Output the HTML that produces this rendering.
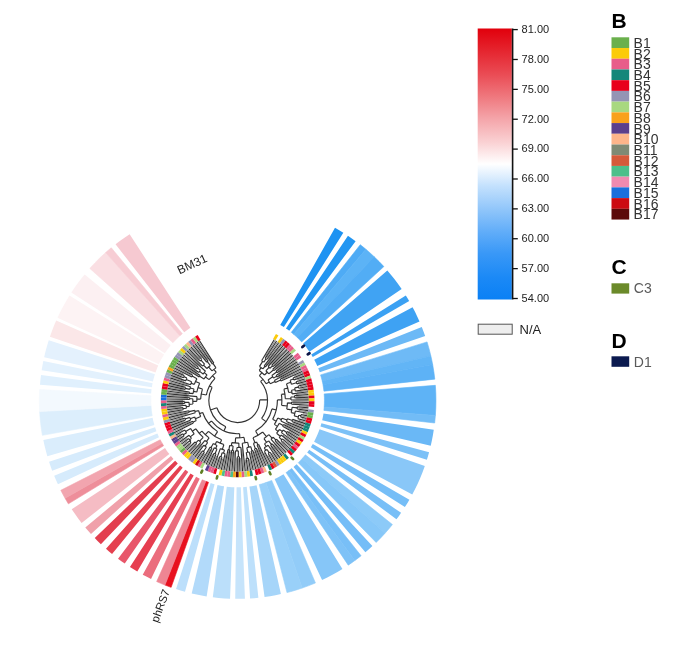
<!DOCTYPE html>
<html><head><meta charset="utf-8"><style>
html,body{margin:0;padding:0;background:#fff;}
body{width:700px;height:649px;overflow:hidden;}
svg{display:block;filter:blur(0.3px);}
text{font-family:"Liberation Sans",sans-serif;}
.t{font-size:11px;fill:#222;}
.t2{font-size:13px;fill:#222;}
.h{font-size:21px;font-weight:bold;fill:#000;}
.b{font-size:14px;fill:#333;}
.c{font-size:14px;fill:#5a5a5a;}
.lab{font-size:11.2px;fill:#222;}
.lab2{font-size:12px;fill:#222;}
</style></head><body>
<svg width="700" height="649" viewBox="0 0 700 649">
<defs><filter id="bl" x="-5%" y="-5%" width="110%" height="110%"><feGaussianBlur stdDeviation="0.35"/></filter></defs>
<rect width="700" height="649" fill="#fff"/>
<g><path d="M335 227.79 L339.19 230.22 L343.32 232.75 L283.9 327.1 L282.1 325.99 L280.26 324.93Z" fill="#1e93f2"/>
<path d="M347.96 235.77 L351.82 238.41 L355.6 241.15 L289.28 330.78 L287.62 329.58 L285.94 328.42Z" fill="#2296f2"/>
<path d="M360.28 244.71 L365.91 249.31 L293.79 334.35 L291.33 332.34Z" fill="#4eabf5" stroke="#4eabf5" stroke-width="0.6"/>
<path d="M365.91 249.31 L370.08 252.95 L374.15 256.71 L297.4 337.59 L295.62 335.94 L293.79 334.35Z" fill="#5cb3f6" stroke="#5cb3f6" stroke-width="0.6"/>
<path d="M374.15 256.71 L379.09 261.56 L383.85 266.58 L301.65 341.91 L299.56 339.71 L297.4 337.59Z" fill="#52adf5" stroke="#52adf5" stroke-width="0.6"/>
<path d="M387.31 270.45 L391.1 274.95 L394.76 279.56 L398.28 284.27 L401.66 289.09 L309.44 351.76 L307.96 349.65 L306.42 347.59 L304.82 345.57 L303.16 343.6Z" fill="#40a3f3"/>
<path d="M405.82 295.47 L409.21 301.1 L312.75 357.02 L311.26 354.55Z" fill="#3ba1f3"/>
<path d="M412.58 307.15 L415.01 311.86 L417.32 316.64 L419.5 321.48 L317.25 365.94 L316.3 363.82 L315.29 361.73 L314.22 359.67Z" fill="#3ea2f3"/>
<path d="M421.77 326.91 L423.51 331.43 L425.15 335.99 L319.72 372.29 L319.01 370.29 L318.24 368.32Z" fill="#6cb9f6"/>
<path d="M427.08 341.91 L429.1 348.89 L430.87 355.94 L322.23 381.02 L321.45 377.94 L320.57 374.88Z" fill="#6ebaf6" stroke="#6ebaf6" stroke-width="0.6"/>
<path d="M430.87 355.94 L431.79 360.17 L432.63 364.41 L323 384.73 L322.63 382.87 L322.23 381.02Z" fill="#62b5f6" stroke="#62b5f6" stroke-width="0.6"/>
<path d="M432.63 364.41 L433.85 371.75 L434.79 379.13 L323.94 391.18 L323.53 387.94 L323 384.73Z" fill="#5db2f6" stroke="#5db2f6" stroke-width="0.6"/>
<path d="M435.37 385.34 L435.8 392.85 L435.95 400.38 L435.81 407.9 L435.39 415.42 L324.21 407.06 L324.39 403.77 L324.45 400.47 L324.38 397.18 L324.19 393.89Z" fill="#5eb3f6" stroke="#5eb3f6" stroke-width="0.6"/>
<path d="M435.39 415.42 L434.68 423 L323.89 410.38 L324.21 407.06Z" fill="#72bcf6" stroke="#72bcf6" stroke-width="0.6"/>
<path d="M433.77 429.86 L432.9 435.21 L431.88 440.54 L430.71 445.83 L322.16 420.37 L322.67 418.05 L323.11 415.72 L323.5 413.38Z" fill="#6ab8f6"/>
<path d="M429.1 452.21 L428.03 456.04 L426.88 459.85 L320.48 426.51 L320.98 424.84 L321.45 423.16Z" fill="#7cc1f7"/>
<path d="M424.81 466.09 L422.65 471.94 L420.32 477.71 L417.81 483.41 L415.12 489.03 L412.25 494.56 L314.08 441.7 L315.33 439.28 L316.51 436.82 L317.61 434.33 L318.63 431.8 L319.57 429.24Z" fill="#89c7f8"/>
<path d="M409.38 499.7 L407.18 503.42 L404.89 507.1 L310.86 447.19 L311.86 445.58 L312.82 443.95Z" fill="#76bef7"/>
<path d="M401.07 512.87 L398.79 516.13 L396.44 519.34 L307.15 452.55 L308.18 451.14 L309.18 449.71Z" fill="#78bff7"/>
<path d="M392.41 524.54 L388.78 528.94 L385.02 533.24 L302.15 458.63 L303.8 456.75 L305.39 454.82Z" fill="#8ccaf8" stroke="#8ccaf8" stroke-width="0.6"/>
<path d="M385.02 533.24 L380.66 537.93 L376.15 542.47 L298.27 462.67 L300.25 460.68 L302.15 458.63Z" fill="#86c7f8" stroke="#86c7f8" stroke-width="0.6"/>
<path d="M372.38 546.05 L368.92 549.18 L365.38 552.23 L293.56 466.95 L295.11 465.61 L296.63 464.24Z" fill="#74bdf7"/>
<path d="M361.09 555.74 L357.96 558.19 L354.77 560.57 L288.91 470.59 L290.31 469.55 L291.68 468.48Z" fill="#78bff7" stroke="#78bff7" stroke-width="0.6"/>
<path d="M354.77 560.57 L351.53 562.89 L348.25 565.14 L286.06 472.6 L287.5 471.61 L288.91 470.59Z" fill="#7ec2f7" stroke="#7ec2f7" stroke-width="0.6"/>
<path d="M342.44 568.9 L337.47 571.89 L332.42 574.74 L327.29 577.43 L322.08 579.98 L274.61 479.09 L276.89 477.98 L279.13 476.8 L281.34 475.55 L283.52 474.24Z" fill="#86c6f8"/>
<path d="M315.45 582.95 L308.88 585.62 L302.21 588.05 L265.91 482.62 L268.83 481.56 L271.7 480.39Z" fill="#92ccf8" stroke="#92ccf8" stroke-width="0.6"/>
<path d="M302.21 588.05 L297.17 589.71 L292.09 591.23 L286.97 592.62 L259.24 484.62 L261.48 484.02 L263.7 483.35 L265.91 482.62Z" fill="#99d0f9" stroke="#99d0f9" stroke-width="0.6"/>
<path d="M280.91 594.07 L275.49 595.21 L270.04 596.19 L264.56 597.02 L249.43 486.55 L251.83 486.18 L254.21 485.76 L256.58 485.26Z" fill="#a6d5f9"/>
<path d="M258.38 597.76 L254.24 598.15 L250.1 598.46 L243.1 487.18 L244.91 487.05 L246.72 486.87Z" fill="#bde0fb"/>
<path d="M244.92 598.72 L240.07 598.84 L235.23 598.84 L236.59 487.34 L238.71 487.34 L240.83 487.29Z" fill="#c6e4fb"/>
<path d="M230.04 598.7 L224.28 598.4 L218.53 597.93 L212.8 597.29 L226.77 486.67 L229.28 486.95 L231.8 487.15 L234.32 487.29Z" fill="#bbdffa"/>
<path d="M206.63 596.41 L201.63 595.55 L196.65 594.56 L191.69 593.45 L217.53 484.99 L219.7 485.47 L221.88 485.91 L224.07 486.28Z" fill="#b2dafa"/>
<path d="M184.99 591.73 L180.5 590.44 L176.04 589.04 L210.68 483.05 L212.63 483.67 L214.6 484.23Z" fill="#bcdffb"/>
<path d="M171.13 587.36 L164.97 585.05 L205.84 481.31 L208.53 482.32Z" fill="#e8101e" stroke="#e8101e" stroke-width="0.6"/>
<path d="M164.97 585.05 L160.81 583.36 L156.68 581.57 L202.21 479.78 L204.01 480.57 L205.84 481.31Z" fill="#ee8593" stroke="#ee8593" stroke-width="0.6"/>
<path d="M151.03 578.93 L146.85 576.84 L142.73 574.65 L196.1 476.76 L197.91 477.72 L199.74 478.63Z" fill="#eb6d7d"/>
<path d="M137.3 571.59 L133.6 569.36 L129.94 567.05 L190.5 473.43 L192.1 474.44 L193.73 475.42Z" fill="#e63e50"/>
<path d="M124.76 563.58 L121.37 561.18 L118.03 558.71 L185.29 469.78 L186.75 470.86 L188.24 471.91Z" fill="#e8566a"/>
<path d="M112.05 554 L109 551.45 L105.99 548.84 L180.02 465.46 L181.34 466.6 L182.67 467.72Z" fill="#e5404f"/>
<path d="M100.9 544.15 L97.8 541.14 L94.76 538.05 L175.11 460.74 L176.43 462.09 L177.79 463.41Z" fill="#e33e4f"/>
<path d="M90.98 534.01 L88.1 530.78 L85.3 527.48 L170.96 456.11 L172.19 457.55 L173.45 458.97Z" fill="#f0a0aa"/>
<path d="M81.6 522.91 L78.18 518.41 L74.88 513.82 L71.72 509.13 L165.02 448.08 L166.4 450.13 L167.85 452.14 L169.34 454.11Z" fill="#f5bcc4"/>
<path d="M68.39 503.87 L65.06 498.2 L162.1 443.29 L163.56 445.77Z" fill="#ee8e9a" stroke="#ee8e9a" stroke-width="0.6"/>
<path d="M65.06 498.2 L62.89 494.26 L60.81 490.27 L160.24 439.82 L161.15 441.57 L162.1 443.29Z" fill="#f2a5af" stroke="#f2a5af" stroke-width="0.6"/>
<path d="M57.93 484.36 L56 480.1 L54.18 475.8 L157.34 433.49 L158.14 435.37 L158.98 437.23Z" fill="#d6ebfc"/>
<path d="M52.15 470.64 L50.55 466.25 L49.06 461.83 L155.1 427.37 L155.75 429.31 L156.45 431.23Z" fill="#d6ebfc"/>
<path d="M47.32 456.21 L45.84 450.87 L44.51 445.49 L43.33 440.08 L152.59 417.86 L153.11 420.22 L153.69 422.58 L154.34 424.91Z" fill="#daedfc"/>
<path d="M42.42 435.33 L41.46 429.43 L40.68 423.51 L40.08 417.57 L39.66 411.62 L150.99 405.4 L151.17 408 L151.43 410.6 L151.78 413.19 L152.2 415.77Z" fill="#dceefc" stroke="#dceefc" stroke-width="0.6"/>
<path d="M39.66 411.62 L39.38 404.24 L39.38 396.86 L39.66 389.48 L150.99 395.7 L150.87 398.93 L150.87 402.17 L150.99 405.4Z" fill="#f3f9fe" stroke="#f3f9fe" stroke-width="0.6"/>
<path d="M39.99 384.65 L40.44 379.82 L41 375.01 L151.57 389.37 L151.33 391.48 L151.13 393.59Z" fill="#e0f0fd"/>
<path d="M41.68 370.21 L42.45 365.6 L43.33 361.02 L152.59 383.24 L152.21 385.25 L151.87 387.27Z" fill="#e3f1fd"/>
<path d="M44.13 357.29 L45.49 351.57 L47.03 345.89 L48.74 340.26 L154.96 374.16 L154.21 376.62 L153.54 379.11 L152.94 381.62Z" fill="#e4f1fd"/>
<path d="M49.93 336.64 L51.87 331.21 L53.96 325.84 L56.21 320.53 L158.23 365.52 L157.25 367.85 L156.33 370.2 L155.48 372.58Z" fill="#fbe7e8"/>
<path d="M57.49 317.69 L60.22 311.99 L63.13 306.39 L66.22 300.88 L69.48 295.47 L164.04 354.55 L162.61 356.92 L161.26 359.33 L159.99 361.79 L158.79 364.28Z" fill="#fdf3f4"/>
<path d="M71.34 292.55 L75.54 286.34 L79.98 280.29 L84.64 274.42 L170.67 345.34 L168.63 347.91 L166.69 350.56 L164.85 353.28Z" fill="#fcf0f2"/>
<path d="M89.82 268.38 L94.92 262.88 L100.23 257.58 L105.73 252.49 L179.91 335.74 L177.5 337.97 L175.18 340.29 L172.94 342.69Z" fill="#fadfe3" stroke="#fadfe3" stroke-width="0.6"/>
<path d="M105.73 252.49 L111.25 247.76 L182.32 333.67 L179.91 335.74Z" fill="#f7cdd4" stroke="#f7cdd4" stroke-width="0.6"/>
<path d="M115.56 244.29 L120.16 240.8 L124.86 237.45 L129.65 234.24 L190.38 327.75 L188.28 329.16 L186.22 330.63 L184.21 332.15Z" fill="#f6c9d1"/></g>
<path d="M265.17 356.65L275.47 340.22M266.81 357.72L277.72 341.69M268.4 358.85L279.91 343.25M265.77 365.29L282.05 344.89M268.44 364.8L284.12 346.6M272.09 363.49L286.12 348.4M273.47 364.82L288.06 350.26M274.79 366.19L289.92 352.2M274.47 368.99L291.71 354.21M276.68 369.57L293.42 356.29M277.82 371.07L295.05 358.42M278.91 372.6L296.6 360.62M277.85 375.48L298.07 362.88M278.76 377.02L299.45 365.18M281.14 377.79L300.74 367.54M281.97 379.45L301.94 369.95M293.96 376.31L303.05 372.4M294.84 378.45L304.06 374.89M297.19 380.09L304.99 377.41M297.92 382.36L305.81 379.97M299.33 384.44L306.54 382.56M299.9 386.79L307.17 385.18M300.37 389.15L307.7 387.81M296.98 392.06L308.13 390.47M295.9 394.45L308.46 393.14M296.09 396.66L308.69 395.82M296.19 398.87L308.82 398.5M293.08 401.05L308.85 401.19M293.02 403.14L308.77 403.88M298.98 405.75L308.6 406.56M298.74 408.06L308.32 409.24M298.42 410.36L307.94 411.9M302.84 413.62L307.46 414.55M302.29 416.07L306.88 417.17M301.66 418.5L306.21 419.78M298.94 420.27L305.43 422.35M293.68 420.94L304.56 424.9M292.87 423.04L303.59 427.4M287.32 423L302.53 429.88M285.35 424.32L301.38 432.31M284.42 426.11L300.13 434.69M289.2 431.3L298.8 437.02M288.01 433.23L297.38 439.31M286.74 435.1L295.87 441.54M283 435.1L294.28 443.7M284.35 439.01L292.61 445.81M282.86 440.74L290.86 447.86M281.31 442.42L289.04 449.83M276.78 441.02L287.14 451.74M275.22 442.47L285.17 453.57M273.98 444.3L283.14 455.33M272.3 445.64L281.04 457M270.57 446.92L278.87 458.6M271.94 452.92L276.65 460.12M269.93 454.17L274.37 461.55M267.89 455.35L272.04 462.89M264.05 452.99L269.66 464.15M258.48 446.13L267.24 465.31M257.72 449.27L264.77 466.38M255.87 449.99L262.27 467.36M254.36 451.78L259.73 468.24M252.41 452.37L257.16 469.03M250.52 453.19L254.56 469.71M249.68 459.33L251.93 470.3M247.46 459.74L249.29 470.79M245.21 460.07L246.63 471.18M241.94 448.8L243.95 471.47M240.58 458.16L241.27 471.66M238.41 458.23L238.58 471.74M236.23 458.21L235.89 471.73M234.42 452.25L233.21 471.61M232.49 451.91L230.53 471.39M230.55 451.67L227.86 471.07M228.65 451.25L225.2 470.65M225.8 455.2L222.56 470.13M222.69 458.83L219.94 469.51M220.5 458.23L217.35 468.8M218.33 457.54L214.79 467.98M216.51 455.94L212.26 467.07M214.43 455.1L209.77 466.06M212.39 454.18L207.31 464.96M212.15 449.77L204.9 463.77M210.31 448.77L202.54 462.49M204.63 453.98L200.22 461.12M202.64 452.69L197.96 459.66M200.7 451.33L195.76 458.12M202.11 445.7L193.61 456.5M200.62 444.11L191.53 454.8M196.46 445.45L189.52 453.02M194.79 443.86L187.57 451.16M190.73 444.52L185.69 449.23M189.1 442.71L183.89 447.24M187.54 440.85L182.17 445.17M186.7 438.45L180.52 443.05M183.54 437.71L178.96 440.86M182.18 435.64L177.48 438.61M180.89 433.52L176.08 436.31M182.95 429.62L174.78 433.96M191.66 422.8L173.56 431.56M189.79 421.52L172.43 429.12M184.53 421.47L171.4 426.64M183.78 419.45L170.46 424.12M183.11 417.4L169.62 421.56M187.97 413.86L168.88 418.98M187.5 411.98L168.23 416.37M181.88 411.06L167.68 413.74M181.52 408.95L167.23 411.09M181.24 406.82L166.89 408.42M183.27 404.53L166.64 405.74M183.15 402.47L166.49 403.06M183.12 400.41L166.45 400.37M188.23 398.55L166.51 397.68M188.34 396.69L166.67 394.99M187.6 394.72L166.93 392.32M187.86 392.84L167.29 389.65M183.49 390.05L167.75 387M183.93 388.02L168.31 384.37M184.44 386L168.97 381.77M188.82 385.19L169.73 379.19M183.93 381.39L170.59 376.64M181.59 378.14L171.54 374.12M182.48 376.04L172.58 371.64M183.45 373.97L173.72 369.21M190.89 375.39L174.95 366.81M191.87 373.64L176.27 364.47M198.45 375.47L177.67 362.18M197.04 372.35L179.17 359.94M195.4 368.78L180.74 357.76M196.63 367.21L182.4 355.64M197.92 365.68L184.13 353.59M200.84 365.7L185.95 351.6M198.58 360.66L187.83 349.68M200.12 359.21L189.79 347.84M201.71 357.83L191.81 346.07M206.41 360.43L193.9 344.38M207.95 359.28L196.06 342.76M212.29 362.35L198.27 341.23" fill="none" stroke="#8a8a8a" stroke-width="1.0" filter="url(#bl)"/>
<path d="M261.6 360.69L274.32 339.52M265.17 358.43L276.6 340.95M266.74 359.5L278.82 342.46M263.82 362.11L265.96 358.96M259.5 366.42L262.72 361.38M264.19 365.95L280.99 344.06M265.48 366.98L283.09 345.73M262.92 368.87L264.84 366.46M259.22 370.43L261.24 367.6M268.11 366.5L285.13 347.49M271.74 365.23L287.1 349.32M273.05 366.54L289 351.22M269.99 368.28L272.41 365.88M265.85 370.78L269.06 367.38M272.75 369.29L290.82 353.2M273.9 370.64L292.57 355.24M268.78 373.86L273.33 369.96M264.49 375.01L267.35 372.28M259.38 375.56L261.96 372.59M276.07 371.22L294.24 357.35M277.15 372.7L295.84 359.51M271.82 375.47L276.61 371.95M276.11 375.55L297.34 361.74M277.03 377.02L298.77 364.02M273.62 378.12L276.57 376.28M268.01 379.99L272.75 376.78M274.33 380.47L300.1 366.36M280.22 379.29L301.35 368.74M281 380.91L302.5 371.17M275.4 382.58L280.62 380.1M270.3 383.86L274.88 381.52M266.16 383.69L269.21 381.89M260.6 381.43L263.1 379.35M293.02 377.94L303.57 373.64M293.84 380.05L304.54 376.15M290.06 380.3L293.44 378.99M296.14 381.68L305.41 378.69M296.81 383.9L306.19 381.26M291.44 384.31L296.49 382.79M286.48 383.77L290.79 382.29M298.17 385.96L306.87 383.87M298.68 388.26L307.45 386.49M294.7 387.93L298.43 387.11M295.33 391.18L307.93 389.14M291.53 390.23L295.04 389.55M292.09 393.81L308.31 391.8M288.65 392.52L291.84 392.01M283.95 389.04L287.76 388.1M294.51 395.68L308.59 394.48M294.65 397.83L308.77 397.16M290.86 397L294.59 396.76M290.98 400.02L308.85 399.85M285.32 398.73L290.94 398.51M281.42 394.34L284.88 393.85M291.56 402.05L308.82 402.54M291.47 404.09L308.7 405.22M287.44 402.88L291.53 403.07M297.38 406.75L308.47 407.9M297.11 409L308.14 410.57M292.11 407.25L297.26 407.88M295.35 410.99L307.71 413.23M301.11 414.53L307.18 415.86M300.54 416.91L306.56 418.48M298.8 415.23L300.84 415.72M297.87 418.67L305.83 421.07M294.25 415.85L298.36 416.96M291.18 412.6L294.85 413.43M286.76 409.08L291.71 409.94M281.59 405.37L287.2 405.99M277.39 399.92L281.85 399.85M292.64 419.39L305.01 423.63M291.89 421.45L304.09 426.15M287.46 418.68L292.27 420.42M286.36 421.47L303.07 428.65M282.08 418.16L286.93 420.08M280.82 421.05L301.96 431.1M277.79 418.01L281.47 419.61M283.57 424.52L300.77 433.5M282.63 426.24L299.48 435.86M279.29 423.3L283.11 425.39M287.34 431.48L298.1 438.17M286.14 433.33L296.63 440.43M283.17 430.09L286.75 432.41M281.43 432.62L295.09 442.63M279.49 429.42L282.32 431.37M281.16 435.02L293.46 444.77M282.47 438.91L291.75 446.84M280.99 440.57L289.96 448.85M279.14 437.43L281.74 439.75M276.59 433.24L280.17 436.24M275.39 429.31L278.09 431.36M274.37 424.38L277.46 426.38M272.66 419.36L276.22 421.27M272.01 408.91L276.27 409.94M276.47 439.22L288.1 450.79M274.99 440.66L286.17 452.66M273.12 437.23L275.74 439.94M270.98 439.18L284.16 454.46M268.84 434.7L272.06 438.22M272.21 443.81L282.09 456.18M270.55 445.08L279.96 457.81M268.62 440.85L271.39 444.45M268.15 445.27L277.77 459.37M270.14 452.28L275.52 460.84M268.17 453.47L273.21 462.23M267.16 449.56L269.16 452.89M264.33 451.15L270.86 463.53M264.25 447.7L265.76 450.38M264.48 443.72L266.23 446.53M263.98 438.57L266.59 442.34M262.75 432.04L266.48 436.72M258.68 444.38L268.46 464.74M257.01 445.14L266.01 465.86M256.58 441.98L257.85 444.77M256.25 448.24L263.53 466.88M254.44 448.91L261 467.81M253.4 443.29L255.35 448.59M252.99 437.78L255 442.66M255.58 431.03L258.07 435.26M261.63 418.36L266.04 421.63M259.64 399.94L267.51 399.72M252.95 450.65L258.45 468.65M251.05 451.19L255.86 469.38M250.78 446.64L252 450.93M249.19 451.96L253.25 470.02M248.3 458.07L250.61 470.56M246.12 458.43L247.96 471M246.26 452.53L247.21 458.26M246.82 447.59L247.73 452.27M247.64 442.28L248.81 447.16M242.25 443.21L245.29 471.34M244 437.29L244.96 442.83M240.92 447.37L242.61 471.58M239.45 456.7L239.93 471.71M237.32 456.73L237.24 471.75M238.31 450.85L238.39 456.73M235.46 450.81L234.55 471.68M236.93 447.48L236.88 450.85M238.81 443.08L238.93 447.47M233.58 450.5L231.86 471.51M231.69 450.31L229.19 471.25M233.09 445.94L232.64 450.41M229.84 449.93L226.53 470.88M227.98 449.6L223.88 470.41M229.67 445.47L228.91 449.77M231.8 442.69L231.37 445.74M235.59 437.78L235.3 443.03M239.57 433.68L239.81 437.77M225.11 453.51L221.25 469.84M221.99 457.09L218.64 469.17M219.86 456.46L216.07 468.4M222.13 452.72L220.92 456.79M224.47 449.96L223.62 453.13M220.32 448.66L213.52 467.54M223.88 444.54L222.38 449.35M216.03 454.14L211.01 466.58M214.02 453.28L208.53 465.52M216.99 449.08L215.02 453.72M214.28 447.83L206.1 464.38M217.04 445.4L215.63 448.47M211.94 447.96L203.71 463.14M210.17 446.95L201.37 461.81M213.31 443.49L211.05 447.46M216.64 441.58L215.15 444.48M221.6 439.8L220.2 443.22M204.44 452.08L199.08 460.4M202.52 450.79L196.85 458.9M206.46 447.01L203.48 451.45M203.88 445.17L194.68 457.32M207.7 442.54L205.15 446.11M204.99 440.47L192.56 455.66M209.09 437.91L206.33 441.53M200.8 442.28L190.52 453.91M196.65 443.58L188.53 452.1M195.06 442L186.62 450.21M198.49 440.12L195.85 442.79M203.19 437.41L199.63 441.21M191.02 442.62L184.78 448.24M189.46 440.83L183.02 446.21M190.84 441.21L190.23 441.73M188.61 438.49L181.33 444.12M191.46 438.42L189.7 439.86M189.06 435.29L179.73 441.96M194.23 433.81L190.24 436.87M184.11 435.85L178.21 439.74M182.81 433.81L176.77 437.47M186.57 432.86L183.45 434.84M184.82 429.92L175.42 435.14M190.62 428.47L185.68 431.4M195.85 428.82L192.34 431.19M201.89 431.09L199.28 433.32M208.49 431.33L205.31 434.69M217.59 431.63L214.65 436.17M193.43 422.99L174.16 432.77M192.61 421.3L172.99 430.35M196.25 420.58L193.01 422.15M190.79 420.03L171.91 427.89M185.56 419.94L170.92 425.38M184.86 417.96L170.03 422.85M189.76 417.35L185.2 418.95M194.7 417L190.26 418.7M200.69 416.54L195.44 418.81M195.34 412.75L169.24 420.28M189.18 412.56L168.54 417.68M188.76 410.72L167.94 415.06M194.72 410.33L188.96 411.64M198.65 410.61L195.01 411.55M202.66 412.55L199.55 413.61M211.52 421L208.52 423.34M225.81 426.74L223.98 430.79M183.17 409.76L167.45 412.41M182.86 407.69L167.05 409.75M186.43 408.21L183 408.73M186.08 405.3L166.75 407.08M189.37 406.38L186.23 406.76M184.7 403.42L166.55 404.4M184.63 401.41L166.46 401.71M189.05 402.26L184.65 402.42M192.92 404.03L189.17 404.32M189.7 399.52L166.47 399.02M189.77 397.71L166.57 396.33M192.83 398.74L189.73 398.62M196.84 401.31L192.8 401.39M197.02 396.6L166.78 393.65M200.66 399.1L196.86 398.95M189.21 393.98L167.1 390.98M189.49 392.16L167.51 388.32M193.07 393.65L189.34 393.07M185.17 389.35L168.02 385.68M185.63 387.37L168.63 383.07M189.82 389.39L185.39 388.36M190.53 386.7L169.34 380.47M194.03 389.06L190.16 388.04M196.82 392.03L193.49 391.34M190.55 384.75L170.15 377.91M185.7 380.91L171.05 375.37M183.41 377.67L172.05 372.88M184.31 375.64L173.14 370.42M186.9 378L183.85 376.65M191.69 381.67L186.28 379.45M194.32 384.41L191.09 383.2M191.76 376.96L174.32 368M192.68 375.25L175.6 365.64M196.93 378.64L192.21 376.1M199.65 383.35L195.53 381.48M202.46 389.07L198 387.61M206.39 394.95L201.21 394.02M199.26 377L176.96 363.32M200.17 375.56L178.41 361.05M204.05 379.05L199.71 376.27M198.79 372.47L179.94 358.84M197.19 368.91L181.56 356.69M198.41 367.41L183.26 354.61M200.45 370.31L197.79 368.15M203.1 374.06L199.61 371.38M205.48 371.22L185.03 352.59M207.06 374.96L204.26 372.62M209.11 379.61L205.49 376.96M202.57 366.06L186.88 350.63M200.37 361.02L188.8 348.75M201.89 359.64L190.79 346.94M204.58 364.13L201.13 360.33M206.85 368.5L203.56 365.08M206.6 362.2L192.85 345.21M208.07 361.05L194.97 343.56M210.34 365.48L207.33 361.62M211.99 370.91L208.56 366.95M212.43 364.07L197.15 341.99M213.82 363.15L199.39 340.5M215.97 367.89L213.12 363.6M216.23 372.37L213.93 369.34M215.01 378.29L212.41 375.74M212.12 387.35L209.44 385.97M216.87 407.77L210.5 409.99M265.17 358.43A50.31 50.31 0 0 1 266.74 359.5M261.6 360.69A46.51 46.51 0 0 1 263.82 362.11M264.19 365.95A43.6 43.6 0 0 1 265.48 366.98M259.5 366.42A40.52 40.52 0 0 1 262.92 368.87M271.74 365.23A49.09 49.09 0 0 1 273.05 366.54M268.11 366.5A45.68 45.68 0 0 1 269.99 368.28M272.75 369.29A47 47 0 0 1 273.9 370.64M265.85 370.78A41 41 0 0 1 268.78 373.86M259.22 370.43A37.05 37.05 0 0 1 264.49 375.01M276.07 371.22A48.33 48.33 0 0 1 277.15 372.7M276.11 375.55A45.87 45.87 0 0 1 277.03 377.02M271.82 375.47A42.39 42.39 0 0 1 273.62 378.12M280.22 379.29A47.59 47.59 0 0 1 281 380.91M274.33 380.47A41.81 41.81 0 0 1 275.4 382.58M268.01 379.99A36.67 36.67 0 0 1 270.3 383.86M259.38 375.56A33.12 33.12 0 0 1 266.16 383.69M293.02 377.94A59.81 59.81 0 0 1 293.84 380.05M296.14 381.68A61.46 61.46 0 0 1 296.81 383.9M290.06 380.3A56.19 56.19 0 0 1 291.44 384.31M298.17 385.96A62.25 62.25 0 0 1 298.68 388.26M294.7 387.93A58.43 58.43 0 0 1 295.33 391.18M291.53 390.23A54.86 54.86 0 0 1 292.09 393.81M286.48 383.77A51.63 51.63 0 0 1 288.65 392.52M294.51 395.68A57.06 57.06 0 0 1 294.65 397.83M290.86 397A53.33 53.33 0 0 1 290.98 400.02M283.95 389.04A47.7 47.7 0 0 1 285.32 398.73M291.56 402.05A53.93 53.93 0 0 1 291.47 404.09M297.38 406.75A60.05 60.05 0 0 1 297.11 409M301.11 414.53A64.98 64.98 0 0 1 300.54 416.91M298.8 415.23A62.89 62.89 0 0 1 297.87 418.67M295.35 410.99A58.63 58.63 0 0 1 294.25 415.85M292.11 407.25A54.87 54.87 0 0 1 291.18 412.6M287.44 402.88A49.85 49.85 0 0 1 286.76 409.08M281.42 394.34A44.21 44.21 0 0 1 281.59 405.37M292.64 419.39A58.13 58.13 0 0 1 291.89 421.45M287.46 418.68A53.01 53.01 0 0 1 286.36 421.47M282.08 418.16A47.79 47.79 0 0 1 280.82 421.05M283.57 424.52A51.8 51.8 0 0 1 282.63 426.24M287.34 431.48A58.53 58.53 0 0 1 286.14 433.33M283.17 430.09A54.27 54.27 0 0 1 281.43 432.62M282.47 438.91A58.99 58.99 0 0 1 280.99 440.57M281.16 435.02A55.51 55.51 0 0 1 279.14 437.43M279.49 429.42A50.84 50.84 0 0 1 276.59 433.24M279.29 423.3A47.45 47.45 0 0 1 275.39 429.31M277.79 418.01A43.78 43.78 0 0 1 274.37 424.38M277.39 399.92A39.75 39.75 0 0 1 272.66 419.36M276.47 439.22A54.8 54.8 0 0 1 274.99 440.66M273.12 437.23A51.03 51.03 0 0 1 270.98 439.18M272.21 443.81A55.37 55.37 0 0 1 270.55 445.08M270.14 452.28A61.09 61.09 0 0 1 268.17 453.47M267.16 449.56A57.21 57.21 0 0 1 264.33 451.15M268.15 445.27A54.14 54.14 0 0 1 264.25 447.7M268.62 440.85A50.83 50.83 0 0 1 264.48 443.72M268.84 434.7A46.25 46.25 0 0 1 263.98 438.57M258.68 444.38A48.61 48.61 0 0 1 257.01 445.14M256.25 448.24A51.19 51.19 0 0 1 254.44 448.91M256.58 441.98A45.55 45.55 0 0 1 253.4 443.29M262.75 432.04A40.27 40.27 0 0 1 252.99 437.78M272.01 408.91A35.36 35.36 0 0 1 255.58 431.03M260.6 381.43A29.87 29.87 0 0 1 261.63 418.36M252.95 450.65A52.38 52.38 0 0 1 251.05 451.19M248.3 458.07A58.5 58.5 0 0 1 246.12 458.43M249.19 451.96A52.69 52.69 0 0 1 246.26 452.53M250.78 446.64A47.92 47.92 0 0 1 246.82 447.59M247.64 442.28A42.91 42.91 0 0 1 242.25 443.21M239.45 456.7A56.18 56.18 0 0 1 237.32 456.73M238.31 450.85A50.3 50.3 0 0 1 235.46 450.81M240.92 447.37A46.94 46.94 0 0 1 236.93 447.48M233.58 450.5A50.12 50.12 0 0 1 231.69 450.31M229.84 449.93A49.99 49.99 0 0 1 227.98 449.6M233.09 445.94A45.62 45.62 0 0 1 229.67 445.47M238.81 443.08A42.55 42.55 0 0 1 231.8 442.69M244 437.29A37.28 37.28 0 0 1 235.59 437.78M221.99 457.09A58.67 58.67 0 0 1 219.86 456.46M225.11 453.51A54.42 54.42 0 0 1 222.13 452.72M224.47 449.96A51.14 51.14 0 0 1 220.32 448.66M216.03 454.14A57.79 57.79 0 0 1 214.02 453.28M216.99 449.08A52.74 52.74 0 0 1 214.28 447.83M211.94 447.96A53.93 53.93 0 0 1 210.17 446.95M217.04 445.4A49.36 49.36 0 0 1 213.31 443.49M223.88 444.54A46.1 46.1 0 0 1 216.64 441.58M204.44 452.08A61.31 61.31 0 0 1 202.52 450.79M206.46 447.01A55.96 55.96 0 0 1 203.88 445.17M207.7 442.54A51.58 51.58 0 0 1 204.99 440.47M196.65 443.58A59.43 59.43 0 0 1 195.06 442M200.8 442.28A55.67 55.67 0 0 1 198.49 440.12M191.02 442.62A62.8 62.8 0 0 1 189.46 440.83M190.84 441.21A62 62 0 0 1 188.61 438.49M191.46 438.42A59.73 59.73 0 0 1 189.06 435.29M184.11 435.85A64.14 64.14 0 0 1 182.81 433.81M186.57 432.86A60.44 60.44 0 0 1 184.82 429.92M194.23 433.81A54.7 54.7 0 0 1 190.62 428.47M203.19 437.41A50.46 50.46 0 0 1 195.85 428.82M209.09 437.91A47.03 47.03 0 0 1 201.89 431.09M221.6 439.8A42.4 42.4 0 0 1 208.49 431.33M193.43 422.99A49.59 49.59 0 0 1 192.61 421.3M185.56 419.94A55.59 55.59 0 0 1 184.86 417.96M190.79 420.03A50.75 50.75 0 0 1 189.76 417.35M196.25 420.58A45.99 45.99 0 0 1 194.7 417M189.18 412.56A49.93 49.93 0 0 1 188.76 410.72M195.34 412.75A44.03 44.03 0 0 1 194.72 410.33M200.69 416.54A40.27 40.27 0 0 1 198.65 410.61M217.59 431.63A36.99 36.99 0 0 1 202.66 412.55M239.57 433.68A33.18 33.18 0 0 1 211.52 421M183.17 409.76A55.26 55.26 0 0 1 182.86 407.69M186.43 408.21A51.79 51.79 0 0 1 186.08 405.3M184.7 403.42A53.03 53.03 0 0 1 184.63 401.41M189.37 406.38A48.63 48.63 0 0 1 189.05 402.26M189.7 399.52A47.96 47.96 0 0 1 189.77 397.71M192.92 404.03A44.86 44.86 0 0 1 192.83 398.74M196.84 401.31A40.82 40.82 0 0 1 197.02 396.6M189.21 393.98A48.88 48.88 0 0 1 189.49 392.16M185.17 389.35A53.67 53.67 0 0 1 185.63 387.37M189.82 389.39A49.11 49.11 0 0 1 190.53 386.7M193.07 393.65A45.11 45.11 0 0 1 194.03 389.06M183.41 377.67A58.87 58.87 0 0 1 184.31 375.64M185.7 380.91A55.53 55.53 0 0 1 186.9 378M190.55 384.75A49.68 49.68 0 0 1 191.69 381.67M191.76 376.96A51.6 51.6 0 0 1 192.68 375.25M194.32 384.41A46.24 46.24 0 0 1 196.93 378.64M196.82 392.03A41.71 41.71 0 0 1 199.65 383.35M200.66 399.1A37.02 37.02 0 0 1 202.46 389.07M199.26 377A45.04 45.04 0 0 1 200.17 375.56M197.19 368.91A51.36 51.36 0 0 1 198.41 367.41M198.79 372.47A47.94 47.94 0 0 1 200.45 370.31M203.1 374.06A43.53 43.53 0 0 1 205.48 371.22M204.05 379.05A39.89 39.89 0 0 1 207.06 374.96M200.37 361.02A54.33 54.33 0 0 1 201.89 359.64M202.57 366.06A49.19 49.19 0 0 1 204.58 364.13M206.6 362.2A49.34 49.34 0 0 1 208.07 361.05M206.85 368.5A44.45 44.45 0 0 1 210.34 365.48M212.43 364.07A44.35 44.35 0 0 1 213.82 363.15M211.99 370.91A39.2 39.2 0 0 1 215.97 367.89M209.11 379.61A35.39 35.39 0 0 1 216.23 372.37M206.39 394.95A31.75 31.75 0 0 1 215.01 378.29M225.81 426.74A28.74 28.74 0 0 1 212.12 387.35M259.64 399.94A22 22 0 0 1 216.87 407.77" fill="none" stroke="#333" stroke-width="1.15" filter="url(#bl)"/>
<g><path d="M275.95 333.98 L278.44 335.48 L275.47 340.22 L273.16 338.84Z" fill="#fbcb0a"/>
<path d="M280.87 337.07 L283.24 338.74 L279.91 343.25 L277.72 341.69Z" fill="#fbcb0a"/>
<path d="M283.24 338.74 L285.54 340.51 L282.05 344.89 L279.91 343.25Z" fill="#9494b4"/>
<path d="M285.54 340.51 L287.77 342.36 L284.12 346.6 L282.05 344.89Z" fill="#e8001c"/>
<path d="M287.77 342.36 L289.93 344.29 L286.12 348.4 L284.12 346.6Z" fill="#e8001c"/>
<path d="M289.93 344.29 L292.02 346.31 L288.06 350.26 L286.12 348.4Z" fill="#e85d8a"/>
<path d="M292.02 346.31 L294.03 348.4 L289.92 352.2 L288.06 350.26Z" fill="#e85d8a"/>
<path d="M294.03 348.4 L295.96 350.57 L291.71 354.21 L289.92 352.2Z" fill="#a8d880"/>
<path d="M297.8 352.8 L299.56 355.11 L295.05 358.42 L293.42 356.29Z" fill="#e85d8a"/>
<path d="M299.56 355.11 L301.24 357.48 L296.6 360.62 L295.05 358.42Z" fill="#e85d8a"/>
<path d="M302.82 359.91 L304.31 362.4 L299.45 365.18 L298.07 362.88Z" fill="#9494b4"/>
<path d="M304.31 362.4 L305.7 364.95 L300.74 367.54 L299.45 365.18Z" fill="#a8d880"/>
<path d="M305.7 364.95 L306.99 367.54 L301.94 369.95 L300.74 367.54Z" fill="#e85d8a"/>
<path d="M306.99 367.54 L308.19 370.18 L303.05 372.4 L301.94 369.95Z" fill="#e85d8a"/>
<path d="M308.19 370.18 L309.29 372.87 L304.06 374.89 L303.05 372.4Z" fill="#e8001c"/>
<path d="M309.29 372.87 L310.28 375.59 L304.99 377.41 L304.06 374.89Z" fill="#e8001c"/>
<path d="M310.28 375.59 L311.17 378.36 L305.81 379.97 L304.99 377.41Z" fill="#a8d880"/>
<path d="M311.17 378.36 L311.96 381.15 L306.54 382.56 L305.81 379.97Z" fill="#e8001c"/>
<path d="M311.96 381.15 L312.64 383.97 L307.17 385.18 L306.54 382.56Z" fill="#e8001c"/>
<path d="M312.64 383.97 L313.21 386.81 L307.7 387.81 L307.17 385.18Z" fill="#e8001c"/>
<path d="M313.21 386.81 L313.68 389.68 L308.13 390.47 L307.7 387.81Z" fill="#e8001c"/>
<path d="M313.68 389.68 L314.03 392.55 L308.46 393.14 L308.13 390.47Z" fill="#fbcb0a"/>
<path d="M314.03 392.55 L314.28 395.44 L308.69 395.82 L308.46 393.14Z" fill="#fbcb0a"/>
<path d="M314.28 395.44 L314.42 398.34 L308.82 398.5 L308.69 395.82Z" fill="#e8001c"/>
<path d="M314.42 398.34 L314.45 401.24 L308.85 401.19 L308.82 398.5Z" fill="#fbcb0a"/>
<path d="M314.45 401.24 L314.37 404.14 L308.77 403.88 L308.85 401.19Z" fill="#e8001c"/>
<path d="M314.37 404.14 L314.18 407.04 L308.6 406.56 L308.77 403.88Z" fill="#e8001c"/>
<path d="M313.88 409.92 L313.47 412.79 L307.94 411.9 L308.32 409.24Z" fill="#9494b4"/>
<path d="M313.47 412.79 L312.95 415.65 L307.46 414.55 L307.94 411.9Z" fill="#6ab04c"/>
<path d="M312.95 415.65 L312.33 418.48 L306.88 417.17 L307.46 414.55Z" fill="#6ab04c"/>
<path d="M312.33 418.48 L311.6 421.29 L306.21 419.78 L306.88 417.17Z" fill="#e8001c"/>
<path d="M311.6 421.29 L310.76 424.07 L305.43 422.35 L306.21 419.78Z" fill="#e8001c"/>
<path d="M310.76 424.07 L309.82 426.81 L304.56 424.9 L305.43 422.35Z" fill="#14877a"/>
<path d="M309.82 426.81 L308.78 429.52 L303.59 427.4 L304.56 424.9Z" fill="#14877a"/>
<path d="M308.78 429.52 L307.63 432.18 L302.53 429.88 L303.59 427.4Z" fill="#14877a"/>
<path d="M307.63 432.18 L306.39 434.8 L301.38 432.31 L302.53 429.88Z" fill="#fbcb0a"/>
<path d="M306.39 434.8 L305.05 437.37 L300.13 434.69 L301.38 432.31Z" fill="#e8001c"/>
<path d="M305.05 437.37 L303.61 439.89 L298.8 437.02 L300.13 434.69Z" fill="#a8d880"/>
<path d="M303.61 439.89 L302.07 442.36 L297.38 439.31 L298.8 437.02Z" fill="#e8001c"/>
<path d="M302.07 442.36 L300.45 444.76 L295.87 441.54 L297.38 439.31Z" fill="#fbcb0a"/>
<path d="M300.45 444.76 L298.74 447.1 L294.28 443.7 L295.87 441.54Z" fill="#e8001c"/>
<path d="M298.74 447.1 L296.93 449.37 L292.61 445.81 L294.28 443.7Z" fill="#e85d8a"/>
<path d="M296.93 449.37 L295.05 451.58 L290.86 447.86 L292.61 445.81Z" fill="#e8001c"/>
<path d="M295.05 451.58 L293.08 453.71 L289.04 449.83 L290.86 447.86Z" fill="#14877a"/>
<path d="M293.08 453.71 L291.03 455.76 L287.14 451.74 L289.04 449.83Z" fill="#e8001c"/>
<path d="M288.91 457.74 L286.71 459.63 L283.14 455.33 L285.17 453.57Z" fill="#14877a"/>
<path d="M286.71 459.63 L284.45 461.45 L281.04 457 L283.14 455.33Z" fill="#fbcb0a"/>
<path d="M284.45 461.45 L282.11 463.17 L278.87 458.6 L281.04 457Z" fill="#fbcb0a"/>
<path d="M282.11 463.17 L279.72 464.8 L276.65 460.12 L278.87 458.6Z" fill="#fbcb0a"/>
<path d="M279.72 464.8 L277.26 466.35 L274.37 461.55 L276.65 460.12Z" fill="#9494b4"/>
<path d="M277.26 466.35 L274.75 467.8 L272.04 462.89 L274.37 461.55Z" fill="#d55a3a"/>
<path d="M274.75 467.8 L272.18 469.15 L269.66 464.15 L272.04 462.89Z" fill="#e8001c"/>
<path d="M272.18 469.15 L269.57 470.4 L267.24 465.31 L269.66 464.15Z" fill="#14877a"/>
<path d="M266.91 471.56 L264.2 472.61 L262.27 467.36 L264.77 466.38Z" fill="#fdb58a"/>
<path d="M264.2 472.61 L261.46 473.56 L259.73 468.24 L262.27 467.36Z" fill="#e85d8a"/>
<path d="M261.46 473.56 L258.69 474.41 L257.16 469.03 L259.73 468.24Z" fill="#e8001c"/>
<path d="M258.69 474.41 L255.89 475.15 L254.56 469.71 L257.16 469.03Z" fill="#e8001c"/>
<path d="M253.05 475.79 L250.2 476.32 L249.29 470.79 L251.93 470.3Z" fill="#14877a"/>
<path d="M250.2 476.32 L247.33 476.74 L246.63 471.18 L249.29 470.79Z" fill="#fbcb0a"/>
<path d="M247.33 476.74 L244.45 477.05 L243.95 471.47 L246.63 471.18Z" fill="#a8d880"/>
<path d="M244.45 477.05 L241.55 477.25 L241.27 471.66 L243.95 471.47Z" fill="#e85d8a"/>
<path d="M241.55 477.25 L238.66 477.34 L238.58 471.74 L241.27 471.66Z" fill="#fbcb0a"/>
<path d="M238.66 477.34 L235.75 477.33 L235.89 471.73 L238.58 471.74Z" fill="#5c0a0a"/>
<path d="M235.75 477.33 L232.86 477.2 L233.21 471.61 L235.89 471.73Z" fill="#f9a11b"/>
<path d="M232.86 477.2 L229.97 476.96 L230.53 471.39 L233.21 471.61Z" fill="#4dbf8a"/>
<path d="M229.97 476.96 L227.09 476.62 L227.86 471.07 L230.53 471.39Z" fill="#e85d8a"/>
<path d="M227.09 476.62 L224.22 476.17 L225.2 470.65 L227.86 471.07Z" fill="#e85d8a"/>
<path d="M224.22 476.17 L221.37 475.61 L222.56 470.13 L225.2 470.65Z" fill="#4dbf8a"/>
<path d="M221.37 475.61 L218.55 474.94 L219.94 469.51 L222.56 470.13Z" fill="#fbcb0a"/>
<path d="M215.76 474.16 L212.99 473.28 L214.79 467.98 L217.35 468.8Z" fill="#e8001c"/>
<path d="M212.99 473.28 L210.26 472.3 L212.26 467.07 L214.79 467.98Z" fill="#e85d8a"/>
<path d="M210.26 472.3 L207.57 471.22 L209.77 466.06 L212.26 467.07Z" fill="#e85d8a"/>
<path d="M207.57 471.22 L204.92 470.03 L207.31 464.96 L209.77 466.06Z" fill="#5b3f8c"/>
<path d="M202.32 468.74 L199.77 467.36 L202.54 462.49 L204.9 463.77Z" fill="#a8d880"/>
<path d="M199.77 467.36 L197.28 465.88 L200.22 461.12 L202.54 462.49Z" fill="#e85d8a"/>
<path d="M197.28 465.88 L194.84 464.31 L197.96 459.66 L200.22 461.12Z" fill="#cc0b12"/>
<path d="M194.84 464.31 L192.46 462.65 L195.76 458.12 L197.96 459.66Z" fill="#fbcb0a"/>
<path d="M192.46 462.65 L190.15 460.9 L193.61 456.5 L195.76 458.12Z" fill="#9494b4"/>
<path d="M190.15 460.9 L187.9 459.06 L191.53 454.8 L193.61 456.5Z" fill="#9494b4"/>
<path d="M187.9 459.06 L185.73 457.14 L189.52 453.02 L191.53 454.8Z" fill="#fbcb0a"/>
<path d="M185.73 457.14 L183.63 455.14 L187.57 451.16 L189.52 453.02Z" fill="#fbcb0a"/>
<path d="M183.63 455.14 L181.61 453.06 L185.69 449.23 L187.57 451.16Z" fill="#e85d8a"/>
<path d="M181.61 453.06 L179.66 450.91 L183.89 447.24 L185.69 449.23Z" fill="#6ab04c"/>
<path d="M179.66 450.91 L177.8 448.68 L182.17 445.17 L183.89 447.24Z" fill="#a8d880"/>
<path d="M177.8 448.68 L176.03 446.39 L180.52 443.05 L182.17 445.17Z" fill="#a8d880"/>
<path d="M176.03 446.39 L174.34 444.03 L178.96 440.86 L180.52 443.05Z" fill="#e85d8a"/>
<path d="M174.34 444.03 L172.75 441.61 L177.48 438.61 L178.96 440.86Z" fill="#5b3f8c"/>
<path d="M172.75 441.61 L171.24 439.13 L176.08 436.31 L177.48 438.61Z" fill="#5b3f8c"/>
<path d="M171.24 439.13 L169.83 436.59 L174.78 433.96 L176.08 436.31Z" fill="#fdb58a"/>
<path d="M169.83 436.59 L168.52 434 L173.56 431.56 L174.78 433.96Z" fill="#14877a"/>
<path d="M168.52 434 L167.3 431.37 L172.43 429.12 L173.56 431.56Z" fill="#e85d8a"/>
<path d="M167.3 431.37 L166.19 428.69 L171.4 426.64 L172.43 429.12Z" fill="#e8001c"/>
<path d="M166.19 428.69 L165.18 425.97 L170.46 424.12 L171.4 426.64Z" fill="#e8001c"/>
<path d="M165.18 425.97 L164.27 423.22 L169.62 421.56 L170.46 424.12Z" fill="#e8001c"/>
<path d="M164.27 423.22 L163.47 420.43 L168.88 418.98 L169.62 421.56Z" fill="#9494b4"/>
<path d="M163.47 420.43 L162.77 417.61 L168.23 416.37 L168.88 418.98Z" fill="#fbcb0a"/>
<path d="M162.77 417.61 L162.18 414.77 L167.68 413.74 L168.23 416.37Z" fill="#e85d8a"/>
<path d="M162.18 414.77 L161.7 411.91 L167.23 411.09 L167.68 413.74Z" fill="#fbcb0a"/>
<path d="M161.7 411.91 L161.32 409.04 L166.89 408.42 L167.23 411.09Z" fill="#fbcb0a"/>
<path d="M161.32 409.04 L161.05 406.15 L166.64 405.74 L166.89 408.42Z" fill="#e85d8a"/>
<path d="M161.05 406.15 L160.9 403.25 L166.49 403.06 L166.64 405.74Z" fill="#14877a"/>
<path d="M160.9 403.25 L160.85 400.35 L166.45 400.37 L166.49 403.06Z" fill="#e85d8a"/>
<path d="M160.85 400.35 L160.91 397.45 L166.51 397.68 L166.45 400.37Z" fill="#1a6fdc"/>
<path d="M160.91 397.45 L161.08 394.56 L166.67 394.99 L166.51 397.68Z" fill="#1a6fdc"/>
<path d="M161.08 394.56 L161.37 391.67 L166.93 392.32 L166.67 394.99Z" fill="#6ab04c"/>
<path d="M161.37 391.67 L161.76 388.79 L167.29 389.65 L166.93 392.32Z" fill="#6ab04c"/>
<path d="M161.76 388.79 L162.25 385.94 L167.75 387 L167.29 389.65Z" fill="#e8001c"/>
<path d="M162.25 385.94 L162.86 383.1 L168.31 384.37 L167.75 387Z" fill="#e8001c"/>
<path d="M162.86 383.1 L163.57 380.29 L168.97 381.77 L168.31 384.37Z" fill="#fbcb0a"/>
<path d="M163.57 380.29 L164.39 377.5 L169.73 379.19 L168.97 381.77Z" fill="#e85d8a"/>
<path d="M164.39 377.5 L165.31 374.75 L170.59 376.64 L169.73 379.19Z" fill="#9494b4"/>
<path d="M165.31 374.75 L166.34 372.04 L171.54 374.12 L170.59 376.64Z" fill="#9494b4"/>
<path d="M166.34 372.04 L167.46 369.37 L172.58 371.64 L171.54 374.12Z" fill="#6ab04c"/>
<path d="M167.46 369.37 L168.69 366.74 L173.72 369.21 L172.58 371.64Z" fill="#f9a11b"/>
<path d="M168.69 366.74 L170.02 364.16 L174.95 366.81 L173.72 369.21Z" fill="#6ab04c"/>
<path d="M170.02 364.16 L171.44 361.63 L176.27 364.47 L174.95 366.81Z" fill="#6ab04c"/>
<path d="M171.44 361.63 L172.96 359.16 L177.67 362.18 L176.27 364.47Z" fill="#6ab04c"/>
<path d="M172.96 359.16 L174.57 356.75 L179.17 359.94 L177.67 362.18Z" fill="#6ab04c"/>
<path d="M174.57 356.75 L176.27 354.4 L180.74 357.76 L179.17 359.94Z" fill="#9494b4"/>
<path d="M176.27 354.4 L178.05 352.11 L182.4 355.64 L180.74 357.76Z" fill="#9494b4"/>
<path d="M178.05 352.11 L179.92 349.89 L184.13 353.59 L182.4 355.64Z" fill="#a8d880"/>
<path d="M179.92 349.89 L181.88 347.75 L185.95 351.6 L184.13 353.59Z" fill="#fbcb0a"/>
<path d="M181.88 347.75 L183.91 345.68 L187.83 349.68 L185.95 351.6Z" fill="#9494b4"/>
<path d="M183.91 345.68 L186.02 343.69 L189.79 347.84 L187.83 349.68Z" fill="#a8d880"/>
<path d="M186.02 343.69 L188.21 341.78 L191.81 346.07 L189.79 347.84Z" fill="#fdb58a"/>
<path d="M188.21 341.78 L190.46 339.96 L193.9 344.38 L191.81 346.07Z" fill="#9494b4"/>
<path d="M190.46 339.96 L192.78 338.22 L196.06 342.76 L193.9 344.38Z" fill="#e85d8a"/>
<path d="M192.78 338.22 L195.17 336.57 L198.27 341.23 L196.06 342.76Z" fill="#a8d880"/>
<path d="M195.17 336.57 L197.62 335.01 L200.54 339.79 L198.27 341.23Z" fill="#e8001c"/></g>
<g><path d="M291.59 457.59L293.1 459.18" stroke="#5f7f22" stroke-width="2.6" stroke-linecap="round"/>
<path d="M269.58 472.26L270.47 474.27" stroke="#5f7f22" stroke-width="2.6" stroke-linecap="round"/>
<path d="M255.58 476.98L256.08 479.12" stroke="#5f7f22" stroke-width="2.6" stroke-linecap="round"/>
<path d="M217.33 476.38L216.76 478.5" stroke="#5f7f22" stroke-width="2.6" stroke-linecap="round"/>
<path d="M202.26 470.62L201.26 472.58" stroke="#5f7f22" stroke-width="2.6" stroke-linecap="round"/>
<path d="M302.37 347.01L303.91 345.73" stroke="#0b1446" stroke-width="2.8" stroke-linecap="round"/>
<path d="M307.78 354.31L309.45 353.21" stroke="#0b1446" stroke-width="2.8" stroke-linecap="round"/></g>
<defs><linearGradient id="cb" x1="0" y1="0" x2="0" y2="1"><stop offset="0" stop-color="#e1000c"/><stop offset="0.08" stop-color="#e5242e"/><stop offset="0.17" stop-color="#ea4c55"/><stop offset="0.25" stop-color="#ef777d"/><stop offset="0.33" stop-color="#f4a3a8"/><stop offset="0.42" stop-color="#fad1d3"/><stop offset="0.5" stop-color="#ffffff"/><stop offset="0.58" stop-color="#c4e1fd"/><stop offset="0.67" stop-color="#8fc5fa"/><stop offset="0.75" stop-color="#61adf9"/><stop offset="0.83" stop-color="#3998f7"/><stop offset="0.92" stop-color="#1b89f6"/><stop offset="1" stop-color="#0a80f5"/></linearGradient></defs>
<rect x="477.7" y="28.5" width="34.1" height="271" fill="url(#cb)"/>
<path d="M512.6 28.5V299.5" stroke="#111" stroke-width="1.6" fill="none"/>
<path d="M512.8 29.6H517.8" stroke="#111" stroke-width="1.3"/>
<text x="521.6" y="32.9" class="t">81.00</text>
<path d="M512.8 59.48H517.8" stroke="#111" stroke-width="1.3"/>
<text x="521.6" y="62.78" class="t">78.00</text>
<path d="M512.8 89.36H517.8" stroke="#111" stroke-width="1.3"/>
<text x="521.6" y="92.66" class="t">75.00</text>
<path d="M512.8 119.23H517.8" stroke="#111" stroke-width="1.3"/>
<text x="521.6" y="122.53" class="t">72.00</text>
<path d="M512.8 149.11H517.8" stroke="#111" stroke-width="1.3"/>
<text x="521.6" y="152.41" class="t">69.00</text>
<path d="M512.8 178.99H517.8" stroke="#111" stroke-width="1.3"/>
<text x="521.6" y="182.29" class="t">66.00</text>
<path d="M512.8 208.87H517.8" stroke="#111" stroke-width="1.3"/>
<text x="521.6" y="212.17" class="t">63.00</text>
<path d="M512.8 238.74H517.8" stroke="#111" stroke-width="1.3"/>
<text x="521.6" y="242.04" class="t">60.00</text>
<path d="M512.8 268.62H517.8" stroke="#111" stroke-width="1.3"/>
<text x="521.6" y="271.92" class="t">57.00</text>
<path d="M512.8 298.5H517.8" stroke="#111" stroke-width="1.3"/>
<text x="521.6" y="301.8" class="t">54.00</text>
<rect x="478.2" y="324.2" width="34" height="10" fill="#eeeeee" stroke="#555" stroke-width="1"/>
<text x="519.5" y="334.2" class="t2">N/A</text>
<text x="611.5" y="28" class="h">B</text>
<rect x="611.5" y="37.3" width="17.7" height="10.72" fill="#6ab04c"/>
<text transform="translate(633.6 47.8) scale(1 1.1)" class="b">B1</text>
<rect x="611.5" y="48.02" width="17.7" height="10.72" fill="#fbcb0a"/>
<text transform="translate(633.6 58.52) scale(1 1.1)" class="b">B2</text>
<rect x="611.5" y="58.74" width="17.7" height="10.72" fill="#e85d8a"/>
<text transform="translate(633.6 69.24) scale(1 1.1)" class="b">B3</text>
<rect x="611.5" y="69.46" width="17.7" height="10.72" fill="#14877a"/>
<text transform="translate(633.6 79.96) scale(1 1.1)" class="b">B4</text>
<rect x="611.5" y="80.18" width="17.7" height="10.72" fill="#e8001c"/>
<text transform="translate(633.6 90.68) scale(1 1.1)" class="b">B5</text>
<rect x="611.5" y="90.9" width="17.7" height="10.72" fill="#9494b4"/>
<text transform="translate(633.6 101.4) scale(1 1.1)" class="b">B6</text>
<rect x="611.5" y="101.62" width="17.7" height="10.72" fill="#a8d880"/>
<text transform="translate(633.6 112.12) scale(1 1.1)" class="b">B7</text>
<rect x="611.5" y="112.34" width="17.7" height="10.72" fill="#f9a11b"/>
<text transform="translate(633.6 122.84) scale(1 1.1)" class="b">B8</text>
<rect x="611.5" y="123.06" width="17.7" height="10.72" fill="#5b3f8c"/>
<text transform="translate(633.6 133.56) scale(1 1.1)" class="b">B9</text>
<rect x="611.5" y="133.78" width="17.7" height="10.72" fill="#fdb58a"/>
<text transform="translate(633.6 144.28) scale(1 1.1)" class="b">B10</text>
<rect x="611.5" y="144.5" width="17.7" height="10.72" fill="#7f8a74"/>
<text transform="translate(633.6 155) scale(1 1.1)" class="b">B11</text>
<rect x="611.5" y="155.22" width="17.7" height="10.72" fill="#d55a3a"/>
<text transform="translate(633.6 165.72) scale(1 1.1)" class="b">B12</text>
<rect x="611.5" y="165.94" width="17.7" height="10.72" fill="#4dbf8a"/>
<text transform="translate(633.6 176.44) scale(1 1.1)" class="b">B13</text>
<rect x="611.5" y="176.66" width="17.7" height="10.72" fill="#f08ab0"/>
<text transform="translate(633.6 187.16) scale(1 1.1)" class="b">B14</text>
<rect x="611.5" y="187.38" width="17.7" height="10.72" fill="#1a6fdc"/>
<text transform="translate(633.6 197.88) scale(1 1.1)" class="b">B15</text>
<rect x="611.5" y="198.1" width="17.7" height="10.72" fill="#cc0b12"/>
<text transform="translate(633.6 208.6) scale(1 1.1)" class="b">B16</text>
<rect x="611.5" y="208.82" width="17.7" height="10.72" fill="#5c0a0a"/>
<text transform="translate(633.6 219.32) scale(1 1.1)" class="b">B17</text>
<text x="611.5" y="274" class="h">C</text>
<rect x="611.5" y="283.3" width="17.7" height="10.3" fill="#6b8a2a"/>
<text x="633.8" y="293" class="c">C3</text>
<text x="611.5" y="348" class="h">D</text>
<rect x="611.5" y="356.3" width="17.7" height="10.5" fill="#0b1a4f"/>
<text x="633.8" y="366.5" class="c">D1</text>
<text transform="translate(179.6 274.4) rotate(-24.7)" class="lab2">BM31</text>
<text transform="translate(158.0 623.2) rotate(-69.5)" class="lab">phRS7</text>
</svg>
</body></html>
